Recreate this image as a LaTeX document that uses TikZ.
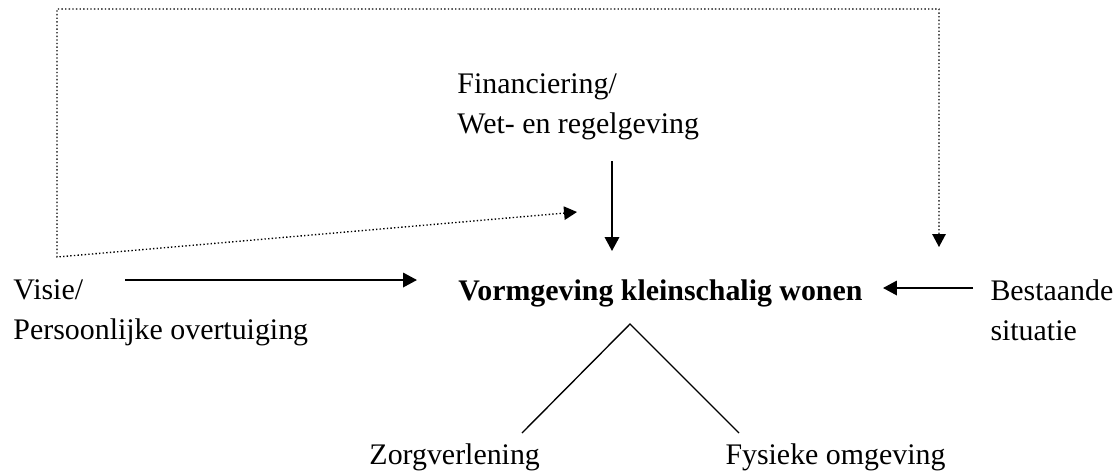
\documentclass[tikz,border=0pt]{standalone}
\usepackage{fontspec}
\setmainfont{Liberation Serif}
\usepackage{tikz}
\usetikzlibrary{
  arrows.meta,
  positioning
}
\tikzset{
  lbl/.style={anchor=base west, inner sep=0pt, align=left},
  arr/.style={-{Triangle[length=5.6pt, width=5.8pt]}, line width=0.8pt},
  dotarr/.style={{Triangle[length=5.2pt, width=5.4pt]}-{Triangle[length=5.2pt, width=5.4pt]},
    line width=0.55pt, dash pattern=on 0.55pt off 0.9pt},
  branch/.style={line width=0.55pt},
}

\begin{document}
\begin{tikzpicture}[x=0.4016pt, y=-0.4016pt,
  font=\fontsize{12}{15.7}\selectfont]
  \useasboundingbox (0,0) rectangle (1116,473);

  % Factors (anchored at the last line)
  \node[lbl] (fin) at (457,133) {Financiering/\\Wet- en regelgeving};
  \node[lbl, font=\fontsize{12}{15.7}\selectfont\bfseries] (main) at (458,300)
    {Vormgeving kleinschalig wonen};
  \node[lbl] (visie) at (13,339) {Visie/\\Persoonlijke overtuiging};
  \node[lbl] (best) at (990,340) {Bestaande\\situatie};

  % Branches
  \node[lbl] (zorg) at (369,464) {Zorgverlening};
  \node[lbl] (fys) at (725,464) {Fysieke omgeving};

  \draw[arr] ([shift={(155,28)}]fin.base west) -- ([shift={(154,-49)}]main.base west);
  \draw[arr] ([shift={(-333,-20)}]main.base west) -- ([shift={(-41,-20)}]main.base west);
  \draw[arr] ([shift={(-17,-52)}]best.base west) -- ([shift={(-107,-52)}]best.base west);

  % Feedback loop
  \draw[dotarr] ([shift={(119,-88)}]main.base west)
    -- ([shift={(-401,-43)}]main.base west)
    -- ([shift={(-401,-291)}]main.base west)
    -- ([shift={(-51,-331)}]best.base west)
    -- ([shift={(-51,-93)}]best.base west);

  \draw[branch] ([shift={(153,-31)}]zorg.base west)
    -- ([shift={(172,24)}]main.base west)
    -- ([shift={(14,-31)}]fys.base west);
\end{tikzpicture}
\end{document}
